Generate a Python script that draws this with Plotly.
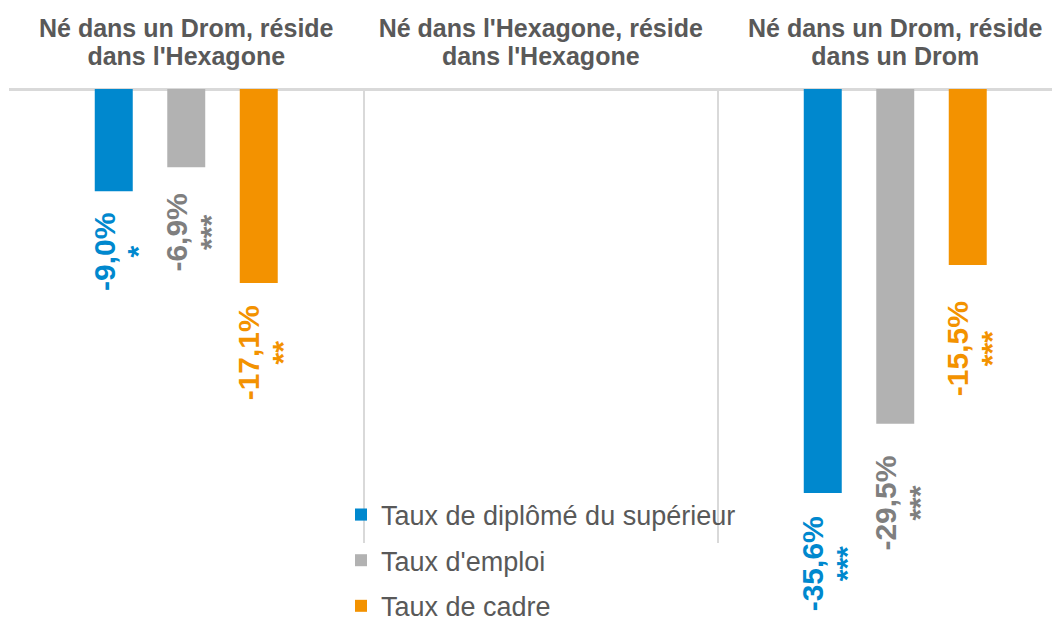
import plotly.graph_objects as go

# ---- data ----
categories = ["Né dans un Drom, réside dans l'Hexagone",
              "Né dans l'Hexagone, réside dans l'Hexagone",
              "Né dans un Drom, réside dans un Drom"]
header_line1 = ["Né dans un Drom, réside", "Né dans l'Hexagone, réside", "Né dans un Drom, réside"]
header_line2 = ["dans l'Hexagone", "dans l'Hexagone", "dans un Drom"]

series_names = ["Taux de diplômé du supérieur", "Taux d'emploi", "Taux de cadre"]
diplome = [-9.0, None, -35.6]
emploi = [-6.9, None, -29.5]
cadre = [-17.1, None, -15.5]
diplome_sig = ["*", "", "***"]
emploi_sig = ["***", "", "***"]
cadre_sig = ["**", "", "***"]

# ---- styles ----
bar_colors = ["#0088CE", "#B2B2B2", "#F39200"]
label_colors = ["#0088CE", "#7F7F7F", "#F39200"]
# gap (px) between bar end and its data label, per series / category
label_gaps = [[20, 0, 21], [24, 0, 30], [20, 0, 34]]

series_values = [diplome, emploi, cadre]
series_sig = [diplome_sig, emploi_sig, cadre_sig]

FONT = "Liberation Sans, Arial, sans-serif"
# page body has an 8px margin: the figure is sized so it ends at the window edge
W, H = 1052, 609
ML, MR, MT, MB = 1, 0, 81, 74
CAT_PX = 354.5
BARGAP = 0.3865
BARGROUPGAP = 0.476

fig = go.Figure()
for i, (name, vals) in enumerate(zip(series_names, series_values)):
    fig.add_trace(go.Bar(
        x=categories, y=vals, name=name,
        marker=dict(color=bar_colors[i], line=dict(width=0)),
        legendgroup=name,
        hoverinfo="skip",
    ))

# data labels (value + significance stars), rotated
slot = (1 - BARGAP) / len(series_names)
annotations = []
for i, (vals, sigs) in enumerate(zip(series_values, series_sig)):
    for j, (v, s) in enumerate(zip(vals, sigs)):
        if v is None:
            continue
        label = f"{v:.1f}".replace(".", ",") + "%"
        txt = (f"<span style='font-size:30px'>{label}</span><br>"
               f"<span style='font-size:30px'>{s}</span>")
        annotations.append(dict(
            x=j + (i - 1) * slot, y=v, xref="x", yref="y",
            text=txt, showarrow=False, textangle=-90,
            font=dict(family=FONT, size=26, color=label_colors[i], weight="bold"),
            xanchor="center", yanchor="top", xshift=7, yshift=-label_gaps[i][j],
        ))

ticktext = [f"<span style='font-size:25px'>{a}</span><br><span style='font-size:25px'>{b}</span>"
            for a, b in zip(header_line1, header_line2)]

plot_w = W - ML - MR
fig.update_layout(
    width=W, height=H,
    margin=dict(l=ML, r=MR, t=MT, b=MB, pad=0, autoexpand=False),
    paper_bgcolor="white", plot_bgcolor="white",
    barmode="group", bargap=BARGAP, bargroupgap=BARGROUPGAP,
    font=dict(family=FONT),
    showlegend=True,
    legend=dict(
        x=(333 - ML) / plot_w, y=0.1155, xanchor="left", yanchor="top",
        font=dict(family=FONT, size=27, color="#595959"),
        bgcolor="rgba(0,0,0,0)", tracegroupgap=7.5, traceorder="grouped",
    ),
    annotations=annotations,
)
fig.update_xaxes(
    type="category", categoryorder="array", categoryarray=categories,
    side="top", range=[-0.5, -0.5 + plot_w / CAT_PX],
    tickvals=categories, ticktext=ticktext,
    tickfont=dict(family=FONT, size=21.5, color="#595959", weight="bold"),
    ticks="", showline=False, tickson="boundaries", ticklabelstandoff=19,
    showgrid=True, gridcolor="#D9D9D9", gridwidth=1.5,
    zeroline=False, fixedrange=True, automargin=False,
)
fig.update_yaxes(
    range=[-40, 0], showticklabels=False, showgrid=False, ticks="",
    zeroline=True, zerolinecolor="#D9D9D9", zerolinewidth=2.5,
    showline=False, fixedrange=True, automargin=False,
)

fig.write_html("out.html")
